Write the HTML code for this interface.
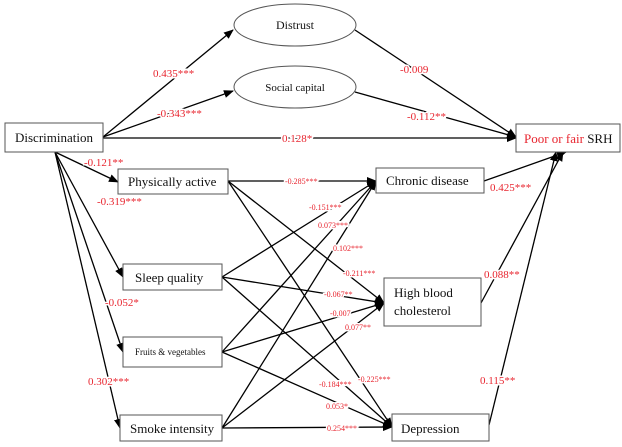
<!DOCTYPE html>
<html><head><meta charset="utf-8"><style>
html,body{margin:0;padding:0;background:#fff;overflow:hidden;}
svg{display:block;font-family:"Liberation Serif",serif;}
.b{fill:#fff;stroke:#555;stroke-width:1;}
.l{stroke:#000;stroke-width:1.3;fill:none;}
.r{fill:#e8252f;paint-order:stroke;stroke:#fff;stroke-width:3px;}
.t{fill:#111;}
</style></head><body>
<svg width="622" height="447" viewBox="0 0 622 447" xmlns="http://www.w3.org/2000/svg">
<defs><marker id="a" markerWidth="10" markerHeight="8" refX="9" refY="4" orient="auto" markerUnits="userSpaceOnUse"><path d="M0,0 L10,4 L0,8z" fill="#000"/></marker></defs>
<g class="l">
<line x1="103" y1="137" x2="233" y2="30" marker-end="url(#a)"/>
<line x1="103" y1="137" x2="233" y2="91" marker-end="url(#a)"/>
<line x1="103" y1="138" x2="516" y2="138" marker-end="url(#a)"/>
<line x1="355" y1="30" x2="516" y2="137" marker-end="url(#a)"/>
<line x1="355" y1="92" x2="516" y2="137" marker-end="url(#a)"/>
<line x1="55" y1="152" x2="118" y2="182" marker-end="url(#a)"/>
<line x1="55" y1="152" x2="123" y2="277" marker-end="url(#a)"/>
<line x1="55" y1="152" x2="123" y2="352" marker-end="url(#a)"/>
<line x1="55" y1="152" x2="120" y2="428" marker-end="url(#a)"/>
<line x1="228" y1="181" x2="376" y2="181" marker-end="url(#a)"/>
<line x1="228" y1="181" x2="384" y2="303" marker-end="url(#a)"/>
<line x1="228" y1="181" x2="392" y2="427" marker-end="url(#a)"/>
<line x1="222" y1="277" x2="376" y2="181" marker-end="url(#a)"/>
<line x1="222" y1="277" x2="384" y2="303" marker-end="url(#a)"/>
<line x1="222" y1="277" x2="392" y2="427" marker-end="url(#a)"/>
<line x1="222" y1="352" x2="376" y2="181" marker-end="url(#a)"/>
<line x1="222" y1="352" x2="384" y2="303" marker-end="url(#a)"/>
<line x1="222" y1="352" x2="392" y2="427" marker-end="url(#a)"/>
<line x1="222" y1="428" x2="376" y2="181" marker-end="url(#a)"/>
<line x1="222" y1="428" x2="384" y2="303" marker-end="url(#a)"/>
<line x1="222" y1="428" x2="392" y2="427" marker-end="url(#a)"/>
<line x1="484" y1="181" x2="566" y2="152" marker-end="url(#a)"/>
<line x1="481" y1="303" x2="563" y2="152" marker-end="url(#a)"/>
<line x1="489" y1="425" x2="556" y2="152" marker-end="url(#a)"/>
</g>
<ellipse class="b" cx="295" cy="25" rx="61" ry="21"/>
<ellipse class="b" cx="295" cy="87" rx="61" ry="21"/>
<rect class="b" x="5" y="123" width="98" height="29"/>
<rect class="b" x="516" y="124" width="104" height="28"/>
<rect class="b" x="118" y="169" width="110" height="25"/>
<rect class="b" x="376" y="168" width="108" height="25"/>
<rect class="b" x="123" y="264" width="99" height="26"/>
<rect class="b" x="384" y="278" width="97" height="48"/>
<rect class="b" x="123" y="337" width="99" height="30"/>
<rect class="b" x="120" y="415" width="102" height="26"/>
<rect class="b" x="392" y="414" width="97" height="27"/>
<g class="t" font-size="13">
<text x="295" y="29" text-anchor="middle" font-size="12">Distrust</text>
<text x="295" y="91" text-anchor="middle" font-size="11">Social capital</text>
<text x="15" y="142">Discrimination</text>
<text x="128" y="186">Physically active</text>
<text x="386" y="185">Chronic disease</text>
<text x="135" y="282">Sleep quality</text>
<text x="394" y="297">High blood</text>
<text x="394" y="315">cholesterol</text>
<text x="135" y="355" font-size="9">Fruits &amp; vegetables</text>
<text x="130" y="433">Smoke intensity</text>
<text x="401" y="433">Depression</text>
<text x="524" y="143"><tspan fill="#e8252f">Poor or fair</tspan> SRH</text>
</g>
<g class="r" font-size="11">
<text x="153" y="77">0.435***</text>
<text x="157" y="117">-0.343***</text>
<text x="400" y="73">-0.009</text>
<text x="407" y="120">-0.112**</text>
<text x="282" y="142">0.128*</text>
<text x="84" y="166">-0.121**</text>
<text x="97" y="205">-0.319***</text>
<text x="105" y="306">-0.052*</text>
<text x="88" y="385">0.302***</text>
<text x="490" y="191">0.425***</text>
<text x="484" y="278">0.088**</text>
<text x="480" y="384">0.115**</text>
</g>
<g class="r" font-size="8">
<text x="285" y="184">-0.285***</text>
<text x="309" y="210">-0.151***</text>
<text x="318" y="228">0.073***</text>
<text x="333" y="251">0.102***</text>
<text x="343" y="276">-0.211***</text>
<text x="324" y="297">-0.067**</text>
<text x="330" y="316">-0.007</text>
<text x="345" y="330">0.077**</text>
<text x="358" y="382">-0.225***</text>
<text x="319" y="387">-0.184***</text>
<text x="326" y="409">0.053*</text>
<text x="327" y="431">0.254***</text>
</g>
</svg>
</body></html>
